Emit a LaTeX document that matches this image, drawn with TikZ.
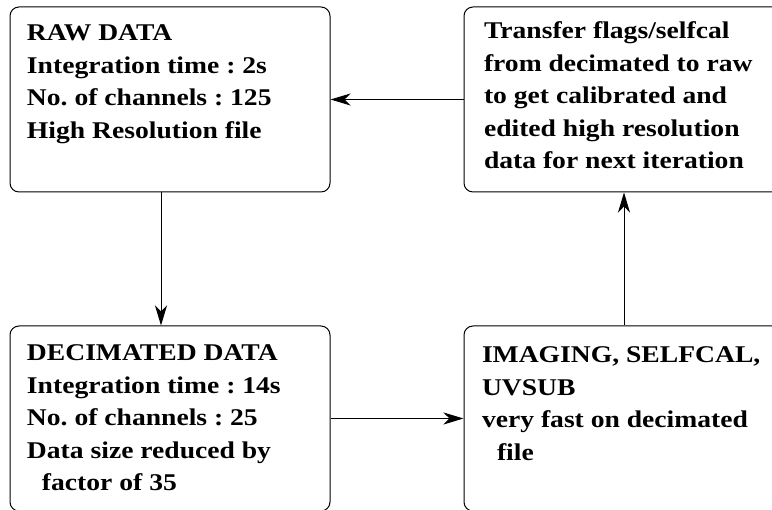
\documentclass[tikz,border=0pt]{standalone}
\usepackage{fontspec}
\setmainfont{Liberation Serif}[FakeStretch=1.15]
\usetikzlibrary{arrows.meta,positioning}

\begin{document}
\frenchspacing
\begin{tikzpicture}[x=1pt,y=1pt,>={Stealth[length=20pt,width=12pt,inset=6pt]},
    line width=1pt,node distance=133pt,
    box/.style={draw,rectangle,rounded corners=9pt,minimum width=320pt,minimum height=185pt,inner sep=0pt},
    txt/.style={anchor=north west,align=left,inner sep=0pt,font=\fontsize{24}{32.5}\selectfont\bfseries}]
    \useasboundingbox (0,0) rectangle (772,510);
    \clip (0,0) rectangle (772,510);

    \node[box] (raw)                   at (170,410.5) {};
    \node[box] (transfer) [right=of raw]              {};
    \node[box] (decimated) [below=of raw]             {};
    \node[box] (imaging) [right=of decimated]         {};

    \node[txt] (rawtext) at ([shift={(17,-18)}]raw.north west)
      {RAW DATA\\Integration time : 2s\\No. of channels : 125\\High Resolution file};
    \node[txt] (transfertext) at ([shift={(20,-15)}]transfer.north west)
      {Transfer flags/selfcal\\from decimated to raw\\to get calibrated and\\edited high resolution\\data for next iteration};
    \node[txt] (decimatedtext) at ([shift={(17,-19)}]decimated.north west)
      {DECIMATED DATA\\Integration time : 14s\\No. of channels : 25\\Data size reduced by\\\hspace*{15pt}factor of 35};
    \node[txt] (imagingtext) at ([shift={(18,-21)}]imaging.north west)
      {IMAGING, SELFCAL,\\UVSUB\\very fast on decimated\\\hspace*{15pt}file};

    \draw [->] (transfer) -- (raw);
    \draw [->] ([xshift=-9pt]raw.south) -- ([xshift=-9pt]decimated.north);
    \draw [->] (decimated) -- (imaging);
    \draw [->] (imaging) -- (transfer);
\end{tikzpicture}
\end{document}
